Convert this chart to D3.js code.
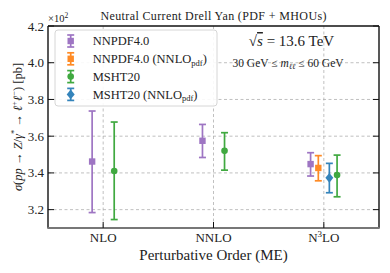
<!DOCTYPE html>
<html>
<head>
<meta charset="utf-8">
<script src="https://cdn.jsdelivr.net/npm/d3@7"></script>
<style>
  body { margin: 0; background: #fff; }
  svg { display: block; font-family: "Liberation Serif", "DejaVu Serif", serif; }
</style>
</head>
<body>
<svg></svg>
<script>
// cross sections in pb (axis shows units of 10^2 pb)
const orders = ['NLO', 'NNLO', 'N3LO'];
const yTicks = [320, 340, 360, 380, 400, 420];

const nnpdfOrders = ['NLO', 'NNLO', 'N3LO'];
const nnpdfCentral = [346.2, 357.5, 344.8];
const nnpdfLow = [318.4, 348.4, 338.3];
const nnpdfHigh = [373.7, 366.4, 351.0];

const nnpdfPdfOrders = ['N3LO'];
const nnpdfPdfCentral = [342.7];
const nnpdfPdfLow = [335.7];
const nnpdfPdfHigh = [349.4];

const mshtOrders = ['NLO', 'NNLO', 'N3LO'];
const mshtCentral = [341.0, 352.0, 338.8];
const mshtLow = [314.6, 341.5, 327.0];
const mshtHigh = [367.7, 361.9, 349.7];

const mshtPdfOrders = ['N3LO'];
const mshtPdfCentral = [337.3];
const mshtPdfLow = [329.2];
const mshtPdfHigh = [345.2];

const size = {w: 390, h: 273};
const plot = {l: 48, r: 379, t: 26, b: 228};
const svg = d3.select('svg').attr('width', size.w).attr('height', size.h);

const series = [
    {name: 'NNPDF4.0', sub: null, color: '#9467bd', marker: 'square',
        orders: nnpdfOrders, c: nnpdfCentral, lo: nnpdfLow, hi: nnpdfHigh},
    {name: 'NNPDF4.0 (NNLO', sub: 'pdf', color: '#ff7f0e', marker: 'square',
        orders: nnpdfPdfOrders, c: nnpdfPdfCentral, lo: nnpdfPdfLow, hi: nnpdfPdfHigh},
    {name: 'MSHT20', sub: null, color: '#2ca02c', marker: 'circle',
        orders: mshtOrders, c: mshtCentral, lo: mshtLow, hi: mshtHigh},
    {name: 'MSHT20 (NNLO', sub: 'pdf', color: '#1f77b4', marker: 'diamond',
        orders: mshtPdfOrders, c: mshtPdfCentral, lo: mshtPdfLow, hi: mshtPdfHigh}
];

// horizontal dodge of each series, depending on how many share an order
function dodge(s, order) {
    if (order === 'N3LO') return {0: -0.12, 1: -0.05, 3: 0.05, 2: 0.12}[s];
    return s === 0 ? -0.1 : 0.1;
}

const x = d3.scaleLinear().domain([-0.5, 2.5]).range([plot.l, plot.r]);
const y = d3.scaleLinear().domain([310, 420]).range([plot.b, plot.t]);

// grid
const grid = svg.append('g').attr('stroke', '#b0b0b0').attr('stroke-width', 0.8)
    .attr('stroke-dasharray', '3,2.5');
grid.selectAll('.hg').data(yTicks.slice(0, -1)).enter().append('line')
    .attr('x1', plot.l).attr('x2', plot.r)
    .attr('y1', d => y(d)).attr('y2', d => y(d));
grid.selectAll('.vg').data(orders).enter().append('line')
    .attr('x1', (d, i) => x(i)).attr('x2', (d, i) => x(i))
    .attr('y1', plot.t).attr('y2', plot.b);

// error bars
function drawMarker(g, type, cx, cy, color) {
    if (type === 'square') {
        g.append('rect').attr('x', cx - 3.2).attr('y', cy - 3.2)
            .attr('width', 6.4).attr('height', 6.4).attr('fill', color);
    } else if (type === 'circle') {
        g.append('circle').attr('cx', cx).attr('cy', cy).attr('r', 3.3).attr('fill', color);
    } else {
        g.append('path').attr('d', d3.symbol(d3.symbolDiamond2, 50)())
            .attr('transform', 'translate(' + cx + ',' + cy + ') scale(0.9,1.1)')
            .attr('fill', color);
    }
}

series.forEach(function (s, si) {
    const g = svg.append('g').attr('opacity', 0.9);
    s.orders.forEach(function (o, i) {
        const cx = x(orders.indexOf(o) + dodge(si, o));
        const e = g.append('g').attr('stroke', s.color).attr('stroke-width', 1.7);
        e.append('line').attr('x1', cx).attr('x2', cx)
            .attr('y1', y(s.lo[i])).attr('y2', y(s.hi[i]));
        [s.lo[i], s.hi[i]].forEach(v => e.append('line')
            .attr('x1', cx - 3.5).attr('x2', cx + 3.5)
            .attr('y1', y(v)).attr('y2', y(v)));
        drawMarker(g, s.marker, cx, y(s.c[i]), s.color);
    });
});

// spines and ticks
const frame = svg.append('g').attr('fill', 'none');
frame.append('line').attr('x1', plot.l).attr('x2', plot.r).attr('y1', plot.t).attr('y2', plot.t)
    .attr('stroke', '#111').attr('stroke-width', 1.4);
frame.append('line').attr('x1', plot.r).attr('x2', plot.r).attr('y1', plot.t).attr('y2', plot.b)
    .attr('stroke', '#111').attr('stroke-width', 1.4);
frame.append('line').attr('x1', plot.l).attr('x2', plot.l).attr('y1', plot.t).attr('y2', plot.b)
    .attr('stroke', '#111').attr('stroke-width', 1.4);
frame.append('line').attr('x1', plot.l - 0.7).attr('x2', plot.r + 0.7).attr('y1', plot.b).attr('y2', plot.b)
    .attr('stroke', '#777').attr('stroke-width', 1.8);

yTicks.forEach(function (t) {
    frame.append('line').attr('x1', plot.l).attr('x2', plot.l + 6)
        .attr('y1', y(t)).attr('y2', y(t)).attr('stroke', '#111').attr('stroke-width', 1);
    frame.append('line').attr('x1', plot.r - 6).attr('x2', plot.r)
        .attr('y1', y(t)).attr('y2', y(t)).attr('stroke', '#111').attr('stroke-width', 1);
    svg.append('text').attr('x', plot.l - 4).attr('y', y(t) + 4.5)
        .attr('text-anchor', 'end').attr('font-size', 13).attr('fill', '#222')
        .text((t / 100).toFixed(1));
});
orders.forEach(function (o, i) {
    frame.append('line').attr('x1', x(i)).attr('x2', x(i))
        .attr('y1', plot.b).attr('y2', plot.b - 6).attr('stroke', '#111').attr('stroke-width', 1);
    const t = svg.append('text').attr('x', x(i)).attr('y', 241.5)
        .attr('text-anchor', 'middle').attr('font-size', 13).attr('fill', '#222');
    if (o === 'N3LO') {
        t.append('tspan').text('N');
        t.append('tspan').attr('font-size', 9).attr('dy', -5).text('3');
        t.append('tspan').attr('dy', 5).text('LO');
    } else {
        t.text(o);
    }
});

// offset label
const off = svg.append('text').attr('x', plot.l).attr('y', 22).attr('font-size', 10.5).attr('fill', '#222');
off.append('tspan').text('×10');
off.append('tspan').attr('font-size', 7.5).attr('dy', -4).text('2');

// title and axis labels
svg.append('text').attr('x', (plot.l + plot.r) / 2).attr('y', 19.5)
    .attr('text-anchor', 'middle').attr('font-size', 12).attr('fill', '#222')
    .attr('textLength', 226).attr('lengthAdjust', 'spacing')
    .text('Neutral Current Drell Yan (PDF + MHOUs)');

svg.append('text').attr('x', (plot.l + plot.r) / 2).attr('y', 259.5)
    .attr('text-anchor', 'middle').attr('font-size', 15).attr('fill', '#222')
    .text('Perturbative Order (ME)');

const yl = svg.append('text')
    .attr('transform', 'translate(21.5,' + ((plot.t + plot.b) / 2) + ') rotate(-90)')
    .attr('text-anchor', 'middle').attr('font-size', 12.5).attr('fill', '#222');
yl.append('tspan').attr('font-style', 'italic').text('σ');
yl.append('tspan').text('(');
yl.append('tspan').attr('font-style', 'italic').text('pp');
yl.append('tspan').text(' → ');
yl.append('tspan').attr('font-style', 'italic').text('Z');
yl.append('tspan').text('/');
yl.append('tspan').attr('font-style', 'italic').text('γ');
yl.append('tspan').attr('font-size', 8.5).attr('dy', -4.5).text('*');
yl.append('tspan').attr('dy', 4.5).text(' → ');
yl.append('tspan').attr('font-style', 'italic').text('ℓ');
yl.append('tspan').attr('font-size', 8.5).attr('dy', -4.5).text('+');
yl.append('tspan').attr('dy', 4.5).attr('font-style', 'italic').text('ℓ');
yl.append('tspan').attr('font-size', 8.5).attr('dy', -4.5).text('−');
yl.append('tspan').attr('dy', 4.5).text(') [pb]');

// annotations
const sq = svg.append('text').attr('x', 291.5).attr('y', 46).attr('text-anchor', 'middle')
    .attr('font-size', 15).attr('fill', '#222');
sq.append('tspan').text('√');
sq.append('tspan').attr('font-style', 'italic').attr('text-decoration', 'overline').text('s');
sq.append('tspan').text(' = 13.6 TeV');

const mr = svg.append('text').attr('x', 288).attr('y', 66.5).attr('text-anchor', 'middle')
    .attr('font-size', 11.5).attr('fill', '#222');
mr.append('tspan').text('30 GeV ≤ ');
mr.append('tspan').attr('font-style', 'italic').text('m');
mr.append('tspan').attr('font-style', 'italic').attr('font-size', 8).attr('dy', 2).text('ℓℓ');
mr.append('tspan').attr('dy', -2).text(' ≤ 60 GeV');

// legend
const lg = svg.append('g');
lg.append('rect').attr('x', 55).attr('y', 30).attr('width', 162).attr('height', 76)
    .attr('rx', 3).attr('fill', '#fff').attr('fill-opacity', 0.9)
    .attr('stroke', '#d6d6d6').attr('stroke-width', 1);
series.forEach(function (s, i) {
    const cy = 41 + i * 17.8;
    const g = lg.append('g').attr('opacity', 0.9);
    const e = g.append('g').attr('stroke', s.color).attr('stroke-width', 1.7);
    e.append('line').attr('x1', 70.7).attr('x2', 70.7).attr('y1', cy - 6).attr('y2', cy + 6);
    [cy - 6, cy + 6].forEach(v => e.append('line').attr('x1', 67.2).attr('x2', 74.2)
        .attr('y1', v).attr('y2', v));
    drawMarker(g, s.marker, 70.7, cy, s.color);
    const t = lg.append('text').attr('x', 92.7).attr('y', cy + 4.3)
        .attr('font-size', 12.5).attr('fill', '#222').text(s.name);
    if (s.sub) {
        t.append('tspan').attr('font-size', 8.5).attr('dy', 2.5).text(s.sub);
        t.append('tspan').attr('dy', -2.5).text(')');
    }
});
</script>
</body>
</html>
